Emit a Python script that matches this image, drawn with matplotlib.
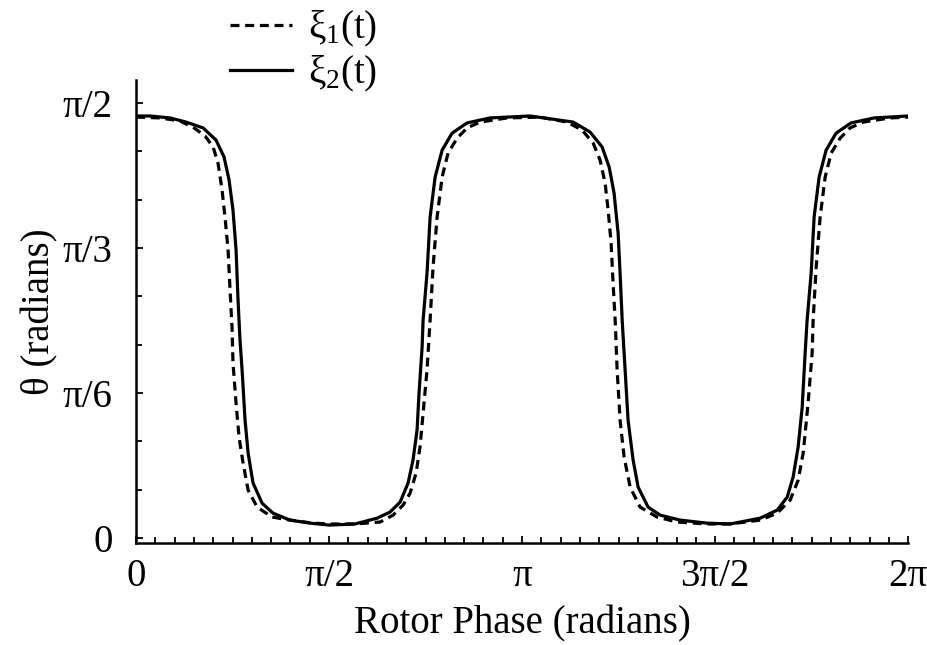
import numpy as np
import matplotlib.pyplot as plt
from matplotlib.ticker import FixedLocator, MultipleLocator

plt.rcParams["font.family"] = ["Liberation Serif", "DejaVu Serif"]
plt.rcParams["mathtext.fontset"] = "custom"
plt.rcParams["mathtext.rm"] = "Liberation Serif"
plt.rcParams["mathtext.it"] = "Liberation Serif"

# phase (radians) and theta (radians)
xi1_phase = [0.000, 0.195, 0.358, 0.472, 0.562, 0.627, 0.667, 0.700, 0.724, 0.749,
             0.765, 0.781, 0.789, 0.814, 0.838, 0.871, 0.912, 0.985, 1.107, 1.253,
             1.441, 1.571, 1.782, 1.986, 2.092, 2.173, 2.230, 2.279, 2.311, 2.336,
             2.368, 2.393, 2.417, 2.450, 2.491, 2.539, 2.613, 2.694, 2.800, 3.020,
             3.288, 3.508, 3.630, 3.720, 3.776, 3.817, 3.842, 3.866, 3.882, 3.899,
             3.915, 3.939, 3.972, 4.021, 4.102, 4.240, 4.403, 4.647, 4.835, 5.079,
             5.217, 5.323, 5.388, 5.429, 5.469, 5.502, 5.510, 5.535, 5.567, 5.608,
             5.657, 5.730, 5.811, 5.917, 6.137, 6.283]
xi1_theta = [1.520, 1.517, 1.506, 1.481, 1.452, 1.412, 1.354, 1.257, 1.159, 1.040,
             0.896, 0.762, 0.632, 0.487, 0.365, 0.271, 0.173, 0.112, 0.076, 0.065,
             0.054, 0.051, 0.051, 0.058, 0.083, 0.119, 0.162, 0.235, 0.329, 0.451,
             0.607, 0.787, 0.979, 1.159, 1.304, 1.390, 1.444, 1.481, 1.502, 1.517,
             1.520, 1.502, 1.473, 1.426, 1.365, 1.282, 1.184, 1.065, 0.921, 0.787,
             0.607, 0.426, 0.292, 0.184, 0.112, 0.076, 0.058, 0.051, 0.051, 0.065,
             0.090, 0.137, 0.209, 0.307, 0.487, 0.668, 0.787, 0.979, 1.159, 1.304,
             1.390, 1.444, 1.481, 1.502, 1.517, 1.520]

xi2_phase = [0.000, 0.114, 0.277, 0.407, 0.545, 0.651, 0.716, 0.757, 0.789, 0.814,
             0.830, 0.846, 0.863, 0.887, 0.912, 0.952, 1.026, 1.115, 1.253, 1.416,
             1.571, 1.782, 1.962, 2.067, 2.149, 2.214, 2.254, 2.287, 2.303, 2.328,
             2.336, 2.368, 2.393, 2.434, 2.491, 2.572, 2.694, 2.881, 3.207, 3.557,
             3.695, 3.793, 3.850, 3.890, 3.923, 3.939, 3.956, 3.980, 4.004, 4.045,
             4.086, 4.167, 4.265, 4.428, 4.647, 4.835, 5.079, 5.217, 5.299, 5.347,
             5.388, 5.421, 5.445, 5.461, 5.494, 5.518, 5.559, 5.616, 5.697, 5.819,
             6.007, 6.283]
xi2_theta = [1.524, 1.524, 1.517, 1.502, 1.481, 1.437, 1.376, 1.293, 1.184, 1.040,
             0.859, 0.715, 0.607, 0.426, 0.307, 0.199, 0.126, 0.090, 0.065, 0.054,
             0.047, 0.051, 0.072, 0.094, 0.130, 0.199, 0.282, 0.390, 0.524, 0.690,
             0.787, 0.957, 1.159, 1.304, 1.401, 1.462, 1.499, 1.517, 1.524, 1.502,
             1.466, 1.412, 1.340, 1.246, 1.101, 0.957, 0.787, 0.607, 0.426, 0.282,
             0.184, 0.112, 0.083, 0.065, 0.054, 0.051, 0.072, 0.101, 0.148, 0.220,
             0.329, 0.473, 0.668, 0.787, 0.957, 1.159, 1.304, 1.401, 1.462, 1.499,
             1.517, 1.524]

xtick_vals = [0, np.pi / 2, np.pi, 3 * np.pi / 2, 2 * np.pi]
xtick_labels = ["0", "π/2", "π", "3π/2", "2π"]
ytick_vals = [0, np.pi / 6, np.pi / 3, np.pi / 2]
ytick_labels = ["0", "π/6", "π/3", "π/2"]

fs = 28

fig = plt.figure(figsize=(9.28, 6.45), dpi=100)
ax = fig.add_axes([0.1466, 0.158, 0.832, 0.718])

ax.plot(xi1_phase, xi1_theta, color="k", lw=2.3, dashes=(2.8, 1.8),
        solid_joinstyle="round", label="ξ$_1$(t)")
ax.plot(xi2_phase, xi2_theta, color="k", lw=2.3, solid_joinstyle="round",
        label="ξ$_2$(t)")

ax.set_xlim(0, 2 * np.pi)
ax.set_ylim(-0.018, 1.654)

ax.spines["top"].set_visible(False)
ax.spines["right"].set_visible(False)
for s in ("left", "bottom"):
    ax.spines[s].set_linewidth(1.8)

ax.xaxis.set_major_locator(FixedLocator(xtick_vals))
ax.xaxis.set_minor_locator(MultipleLocator(np.pi / 20))
ax.set_xticklabels(xtick_labels)
ax.yaxis.set_major_locator(FixedLocator(ytick_vals))
ax.yaxis.set_minor_locator(MultipleLocator(np.pi / 18))
ax.set_yticklabels(ytick_labels)

ax.tick_params(which="both", direction="in", width=1.3, labelsize=fs)
ax.tick_params(which="major", length=5)
ax.tick_params(which="minor", length=4)
ax.tick_params(axis="x", which="major", pad=11)
ax.tick_params(axis="y", which="major", pad=17)

ax.set_xlabel("Rotor Phase (radians)", fontsize=fs, labelpad=7)
ax.set_ylabel("θ (radians)", fontsize=fs, labelpad=3)

ax.legend(loc="upper left", bbox_to_anchor=(0.231, 1.01), bbox_transform=fig.transFigure,
          frameon=False, fontsize=fs, handlelength=1.6, handletextpad=0.4,
          labelspacing=0.12, borderaxespad=0)

plt.savefig("out.png", dpi=100)
plt.close()
